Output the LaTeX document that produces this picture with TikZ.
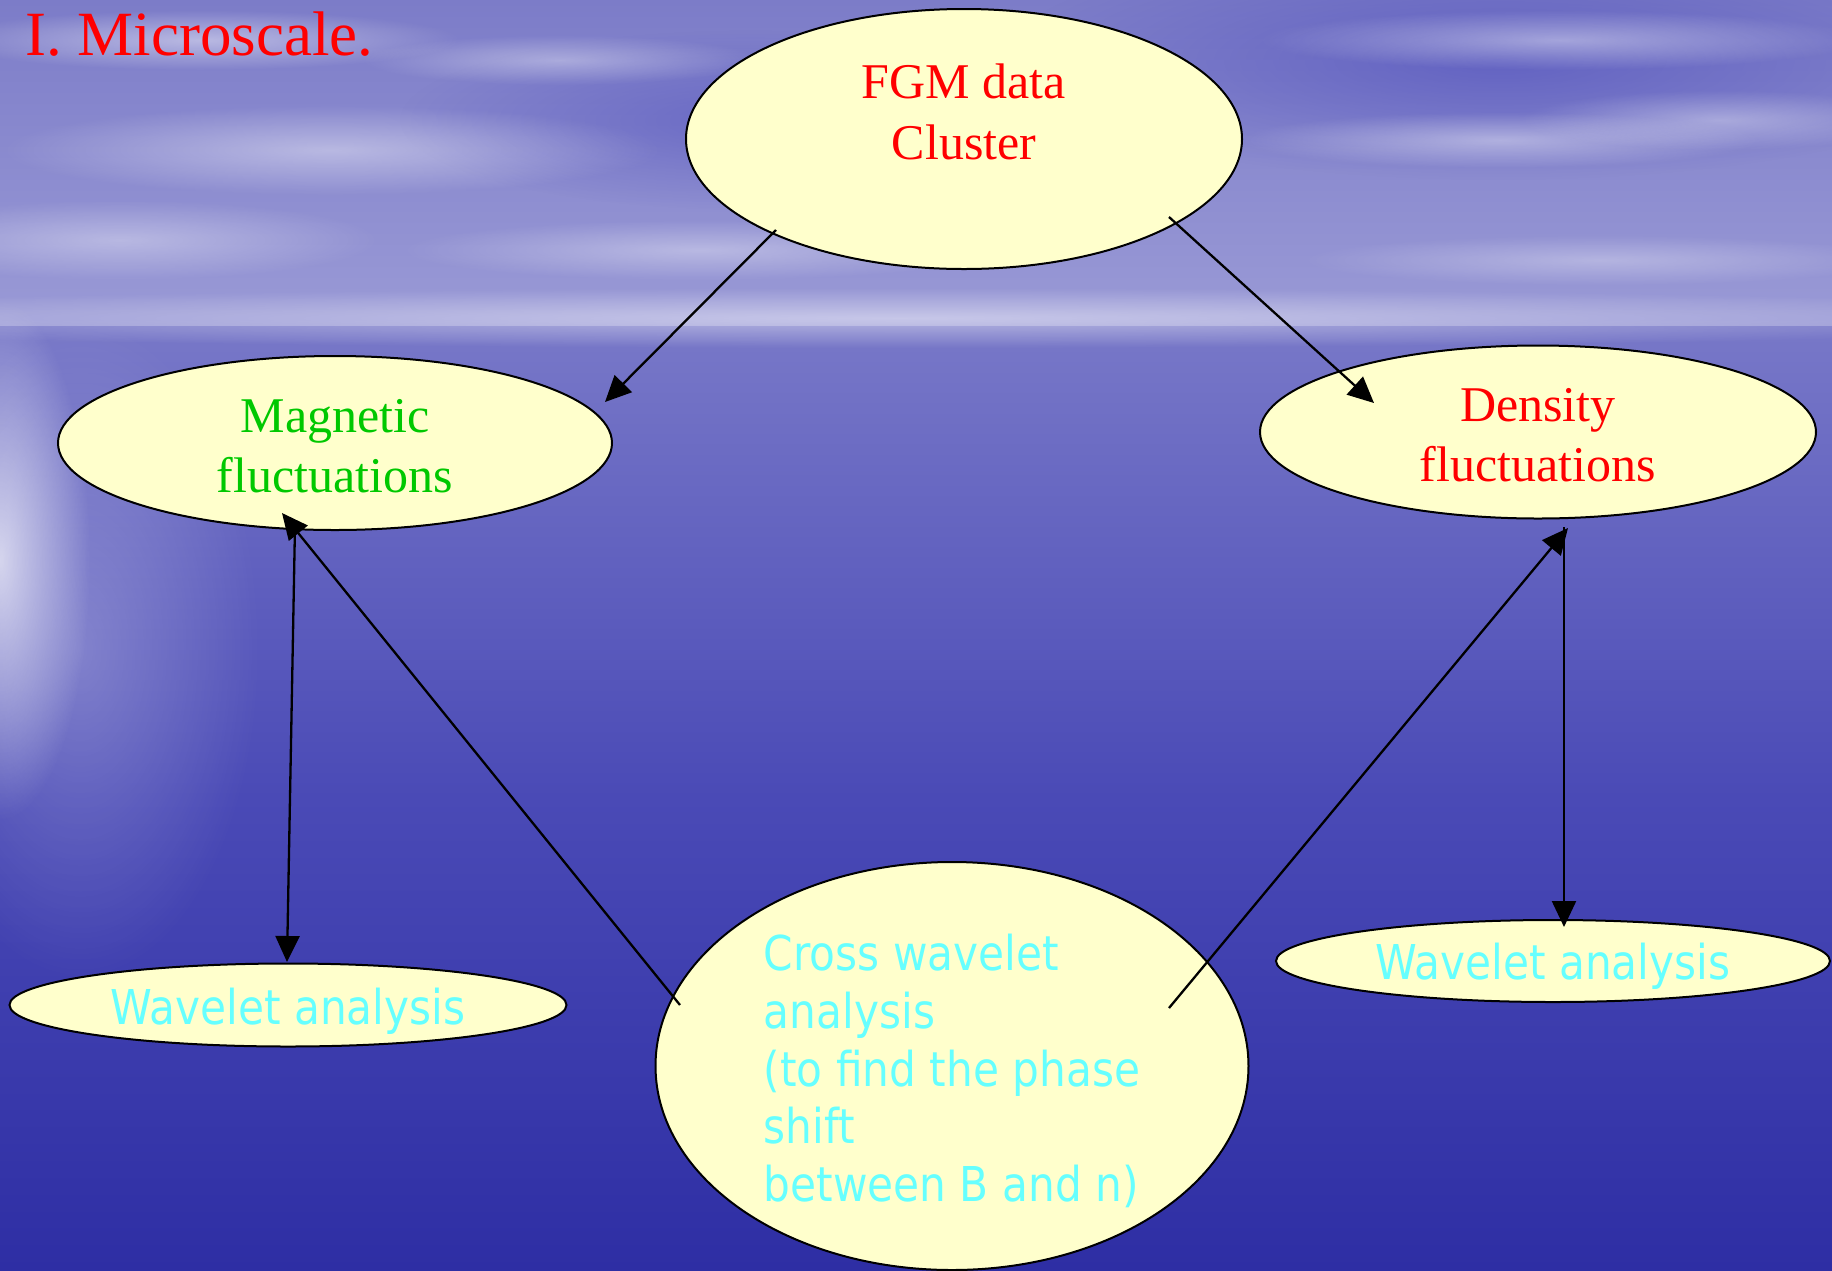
\documentclass[tikz,border=0pt]{standalone}
\usepackage{fontspec}
\setmainfont{Liberation Serif}
\newfontfamily\tahoma[FakeStretch=0.88]{DejaVu Sans}
\usetikzlibrary{shapes.geometric,arrows.meta,calc,fadings}
\tikzfading[name=softblob, inner color=transparent!0, outer color=transparent!100]
\newcommand{\lowr}[2]{\raisebox{-#1}[\height][\depth]{#2}}
\definecolor{bubfill}{HTML}{FFFFCC}
\definecolor{tred}{HTML}{FF0000}
\definecolor{tgreen}{HTML}{00C800}
\definecolor{tcyan}{HTML}{66FFFF}
\definecolor{skytop}{HTML}{7C7CC8}
\definecolor{skybot}{HTML}{9A9AD6}
\definecolor{skydark}{HTML}{4E4EBC}
\definecolor{seatop}{HTML}{7878C8}
\definecolor{seamid}{HTML}{4A4AB6}
\definecolor{seabot}{HTML}{2E2EA4}
\begin{document}
\begin{tikzpicture}[x=1pt,y=-1pt,
  bub/.style={ellipse, draw=black, line width=2pt, fill=bubfill, inner sep=0pt, align=center},
  serifbig/.style={font=\fontsize{50}{60.5}\selectfont},
  sanslbl/.style={font=\tahoma\fontsize{48}{57.8}\selectfont, text=tcyan},
  conn/.style={draw=black, line width=2.3pt, -{Triangle[length=26pt,width=24pt]}},
  cloud/.style={fill=white, path fading=softblob}]
\useasboundingbox (0,0) rectangle (1832,1270);
% background: sky
\shade[top color=skytop, bottom color=skybot] (0,0) rectangle (1832,326);
\fill[skydark, path fading=softblob, opacity=0.6] (1500,60) ellipse (500 and 120);
\fill[skydark, path fading=softblob, opacity=0.5] (750,120) ellipse (350 and 90);
\fill[cloud, opacity=0.45] (200,40) ellipse (260 and 30);
\fill[cloud, opacity=0.40] (330,150) ellipse (330 and 45);
\fill[cloud, opacity=0.35] (120,240) ellipse (260 and 40);
\fill[cloud, opacity=0.35] (560,60) ellipse (200 and 25);
\fill[cloud, opacity=0.40] (1560,40) ellipse (300 and 30);
\fill[cloud, opacity=0.40] (1500,140) ellipse (260 and 28);
\fill[cloud, opacity=0.35] (1720,120) ellipse (200 and 30);
\fill[cloud, opacity=0.30] (1600,260) ellipse (300 and 25);
\fill[cloud, opacity=0.35] (700,250) ellipse (300 and 30);
% background: sea
\shade[top color=seatop, bottom color=seabot, middle color=seamid] (0,326) rectangle (1832,1270);
\fill[cloud, opacity=0.45] (900,318) ellipse (1300 and 30);
\fill[cloud, opacity=0.7] (0,560) ellipse (90 and 260);
\fill[cloud, opacity=0.25] (80,650) ellipse (180 and 330);
% title
\node[anchor=base west, text=tred, font=\fontsize{63}{75}\selectfont, inner sep=0pt] (title) at (25,55) {I. Microscale.};
% nodes
\node[bub, minimum width=556pt, minimum height=260pt, serifbig, text=tred] (fgm) at (964,139) {\lowr{3pt}{FGM data}\\\lowr{3pt}{Cluster}\\\mbox{}};
\node[bub, minimum width=554pt, minimum height=174pt, serifbig, text=tgreen] (mag) at (335,443) {\lowr{3pt}{Magnetic}\\\lowr{3pt}{fluctuations}};
\node[bub, minimum width=556pt, minimum height=173pt, serifbig, text=tred] (den) at (1538,432) {\lowr{3pt}{Density}\\\lowr{3pt}{fluctuations}};
\node[bub, minimum width=557pt, minimum height=83pt, sanslbl] (wl) at (288,1005) {\lowr{6pt}{Wavelet analysis}};
\node[bub, minimum width=554pt, minimum height=82pt, sanslbl] (wr) at (1553,961) {\lowr{5pt}{Wavelet analysis}};
\node[bub, minimum width=593pt, minimum height=408pt, sanslbl, align=left] (cross) at (952,1066) {\lowr{5pt}{Cross wavelet}\\\lowr{5pt}{analysis}\\\lowr{5pt}{(to find the phase}\\\lowr{5pt}{shift}\\\lowr{5pt}{between B and n)}};
% connector end points
\coordinate (a1) at ($(fgm.center)+(-188,91)$);
\coordinate (b1) at ($(mag.center)+(270,-41)$);
\coordinate (a2) at ($(fgm.center)+(205,78)$);
\coordinate (b2) at ($(den.center)+(-164,-29)$);
\coordinate (a3) at ($(mag.center)+(-40,82)$);
\coordinate (b3) at ($(wl.center)+(-1,-43)$);
\coordinate (a4) at ($(cross.center)+(-272,-61)$);
\coordinate (b4) at ($(mag.center)+(-53,70)$);
\coordinate (a5) at ($(cross.center)+(217,-58)$);
\coordinate (b5) at ($(den.center)+(30,96)$);
\coordinate (a6) at ($(den.center)+(26,95)$);
\coordinate (b6) at ($(wr.center)+(11,-34)$);
% connectors
\draw[conn] (a1) -- (b1);
\draw[conn] (a2) -- (b2);
\draw[conn] (a3) -- (b3);
\draw[conn] (a4) -- (b4);
\draw[conn] (a5) -- (b5);
\draw[conn] (a6) -- (b6);
\end{tikzpicture}
\end{document}
